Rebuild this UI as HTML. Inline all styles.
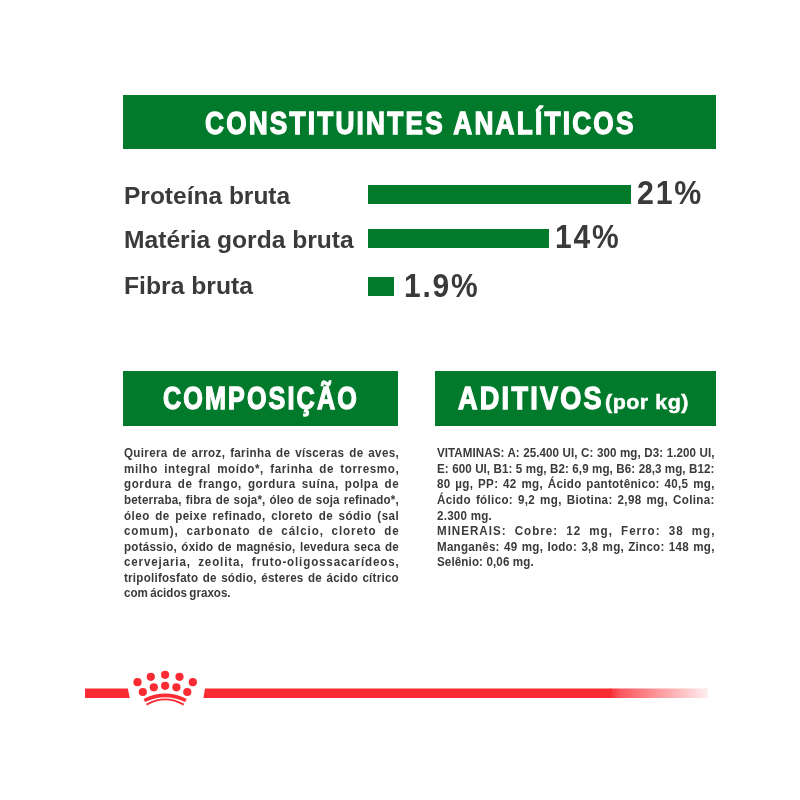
<!DOCTYPE html>
<html lang="pt-BR"><head><meta charset="utf-8"><title>Constituintes analíticos</title><style>
html,body{margin:0;padding:0;background:#fff}
body{width:800px;height:800px;position:relative;overflow:hidden;font-family:"Liberation Sans",sans-serif}
.g{position:absolute;background:#027a2b}
.t{position:absolute;white-space:nowrap;line-height:1;font-weight:bold;transform-origin:0 0}
.col{position:absolute;font-weight:bold;font-size:12.3px;color:#3a3a3c;transform-origin:0 0;transform:scaleX(0.9431)}
.col div{height:15.55px;line-height:15.55px;white-space:nowrap;text-align:justify;text-align-last:justify}
.col div.last{text-align-last:left}
</style></head><body>
<div class="g" style="left:123px;top:94.5px;width:592.5px;height:54.5px"></div>
<div class="g" style="left:123px;top:371px;width:275px;height:54.6px"></div>
<div class="g" style="left:435.4px;top:371px;width:280.2px;height:54.6px"></div>
<div class="g" style="left:368px;top:184.6px;width:263.2px;height:19px"></div>
<div class="g" style="left:368px;top:228.6px;width:181px;height:19px"></div>
<div class="g" style="left:368px;top:277px;width:25.6px;height:19px"></div>
<div class="t" style="left:205.17px;top:107.7px;font-size:31.03px;color:#fff;transform:scaleX(0.8455);letter-spacing:2.6px;-webkit-text-stroke:1.3px #fff">CONSTITUINTES ANALÍTICOS</div>
<div class="t" style="left:162.99px;top:382.5px;font-size:31.03px;color:#fff;transform:scaleX(0.8114);letter-spacing:2.6px;-webkit-text-stroke:1.3px #fff">COMPOSIÇÃO</div>
<div class="t" style="left:458.0px;top:382.55px;font-size:31.03px;color:#fff;transform:scaleX(0.872);letter-spacing:2.6px;-webkit-text-stroke:1.3px #fff">ADITIVOS</div>
<div class="t" style="left:605.03px;top:391.7px;font-size:20.77px;color:#fff;transform:scaleX(1.0322);letter-spacing:0.5px;-webkit-text-stroke:0.5px #fff">(por kg)</div>
<div class="t" style="left:123.77px;top:183.55px;font-size:24.74px;color:#3a3a3c;transform:scaleX(0.991)">Proteína bruta</div>
<div class="t" style="left:123.76px;top:227.65px;font-size:24.74px;color:#3a3a3c;transform:scaleX(0.995)">Matéria gorda bruta</div>
<div class="t" style="left:123.75px;top:274.0px;font-size:24.74px;color:#3a3a3c;transform:scaleX(0.9984)">Fibra bruta</div>
<div class="t" style="left:637.47px;top:175.5px;font-size:33.66px;color:#3a3a3c;transform:scaleX(0.9011);letter-spacing:2px">21%</div>
<div class="t" style="left:555.22px;top:219.55px;font-size:33.66px;color:#3a3a3c;transform:scaleX(0.892);letter-spacing:2px">14%</div>
<div class="t" style="left:404.22px;top:268.5px;font-size:33.66px;color:#3a3a3c;transform:scaleX(0.8903);letter-spacing:2px">1.9%</div>
<div class="col" style="left:124.3px;top:446.4px;width:291.27px">
<div style="letter-spacing:0.359px;width:291.63px">Quirera de arroz, farinha de vísceras de aves,</div>
<div style="letter-spacing:0.643px;width:291.92px">milho integral moído*, farinha de torresmo,</div>
<div style="letter-spacing:0.604px;width:291.88px">gordura de frango, gordura suína, polpa de</div>
<div style="letter-spacing:0.172px;width:291.45px">beterraba, fibra de soja*, óleo de soja refinado*,</div>
<div style="letter-spacing:0.487px;width:291.76px">óleo de peixe refinado, cloreto de sódio (sal</div>
<div style="letter-spacing:0.958px;width:292.23px">comum), carbonato de cálcio, cloreto de</div>
<div style="letter-spacing:0.245px;width:291.52px">potássio, óxido de magnésio, levedura seca de</div>
<div style="letter-spacing:0.902px;width:292.18px">cervejaria, zeolita, fruto-oligossacarídeos,</div>
<div style="letter-spacing:0.259px;width:291.53px">tripolifosfato de sódio, ésteres de ácido cítrico</div>
<div class="last" style="word-spacing:-0.9px">com ácidos graxos.</div>
</div>
<div class="col" style="left:437.0px;top:446.4px;width:294.14px">
<div style="letter-spacing:0.062px;width:294.2px">VITAMINAS: A: 25.400 UI, C: 300 mg, D3: 1.200 UI,</div>
<div style="letter-spacing:0.054px;width:294.19px">E: 600 UI, B1: 5 mg, B2: 6,9 mg, B6: 28,3 mg, B12:</div>
<div style="letter-spacing:0.335px;width:294.47px">80 µg, PP: 42 mg, Ácido pantotênico: 40,5 mg,</div>
<div style="letter-spacing:0.365px;width:294.5px">Ácido fólico: 9,2 mg, Biotina: 2,98 mg, Colina:</div>
<div class="last" style="letter-spacing:0.26px">2.300 mg.</div>
<div style="letter-spacing:1.053px;width:295.19px">MINERAIS: Cobre: 12 mg, Ferro: 38 mg,</div>
<div style="letter-spacing:0.248px;width:294.38px">Manganês: 49 mg, Iodo: 3,8 mg, Zinco: 148 mg,</div>
<div class="last" style="letter-spacing:0.13px">Selênio: 0,06 mg.</div>
</div>
<svg style="position:absolute;left:0;top:660px" width="800" height="60" viewBox="0 660 800 60">
<defs><linearGradient id="fd" gradientUnits="userSpaceOnUse" x1="610" y1="0" x2="708" y2="0"><stop offset="0" stop-color="#fb2b34" stop-opacity="1"/><stop offset="0.1" stop-color="#fb2b34" stop-opacity="0.8"/><stop offset="1" stop-color="#fb2b34" stop-opacity="0.08"/></linearGradient></defs>
<polygon points="85,688.5 127.8,688.5 129.8,698 85,698" fill="#fb2b34"/>
<polygon points="205,688.5 611,688.5 611,698 203.4,698" fill="#fb2b34"/>
<rect x="610" y="688.5" width="97.8" height="9.5" fill="url(#fd)"/>
<g fill="#fb2b34">
<circle cx="137.5" cy="682.2" r="4.1"/><circle cx="150.8" cy="676.8" r="4.1"/><circle cx="165.1" cy="674.8" r="4.1"/><circle cx="179.5" cy="676.8" r="4.1"/><circle cx="192.8" cy="682.2" r="4.1"/>
<circle cx="142.8" cy="692" r="4.1"/><circle cx="153.8" cy="687.3" r="4.1"/><circle cx="165.1" cy="685.8" r="4.1"/><circle cx="176.4" cy="687.3" r="4.1"/><circle cx="187.3" cy="692" r="4.1"/>
</g>
<path d="M144.3,700.5 Q165.1,690.3 185.9,700.5" fill="none" stroke="#fb2b34" stroke-width="3.6" stroke-linecap="butt"/>
<path d="M146.5,704.6 Q165.1,694.0 183.7,704.6" fill="none" stroke="#fb2b34" stroke-width="1.8" stroke-linecap="butt"/>
</svg>
</body></html>
